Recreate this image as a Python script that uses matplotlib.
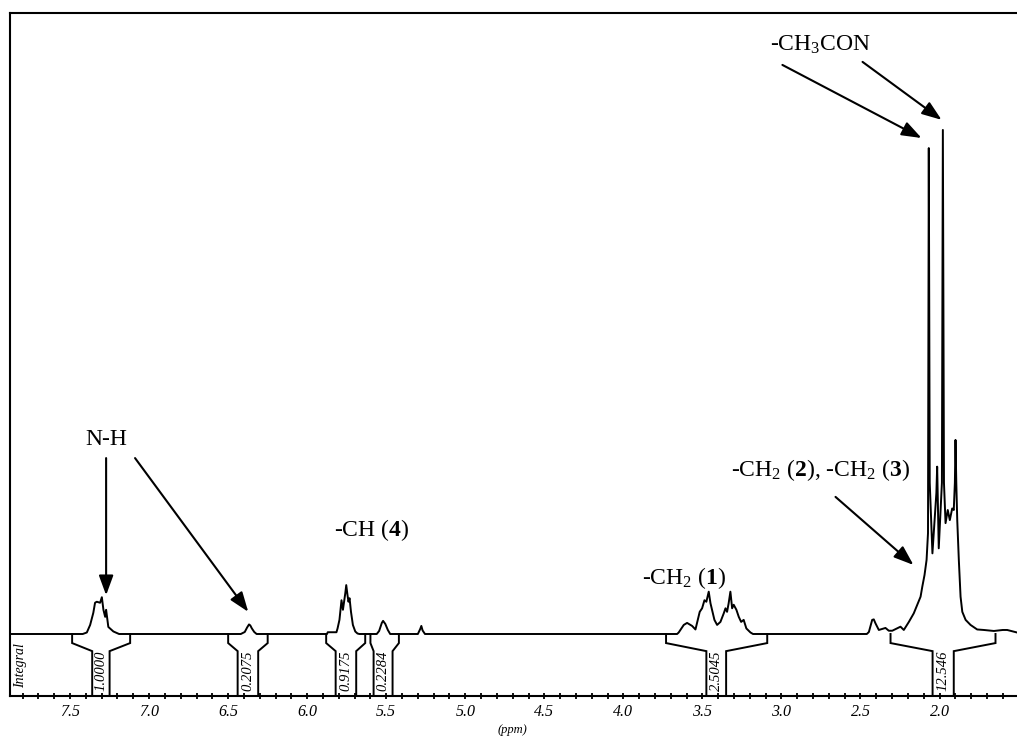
'''
1H NMR spectrum with integrals and peak assignments.
'''
import numpy as np
import matplotlib.pyplot as plt
from matplotlib.ticker import MultipleLocator, FormatStrFormatter

plt.rcParams['font.family'] = 'Liberation Serif'
plt.rcParams['mathtext.fontset'] = 'custom'
plt.rcParams['mathtext.rm'] = 'Liberation Serif'
plt.rcParams['mathtext.it'] = 'Liberation Serif:italic'
plt.rcParams['mathtext.bf'] = 'Liberation Serif:bold'

# spectrum trace, one block per multiplet (ppm, intensity), flat baseline between
nh_ppm = [7.42, 7.394, 7.373, 7.353, 7.342, 7.331, 7.310, 7.299, 7.289, 7.278,
          7.272, 7.266, 7.258, 7.226, 7.204, 7.19]
nh_int = [0, 0.3, 1.8, 4.2, 6.2, 6.4, 6.2, 7.3, 4.8, 3.4, 4.8, 3.4, 1.4, 0.5, 0.2, 0]

nh2_ppm = [6.42, 6.395, 6.38, 6.368, 6.36, 6.35, 6.335, 6.32]
nh2_int = [0, 0.4, 1.3, 1.9, 1.7, 1.1, 0.4, 0]

ch_ppm = [5.875, 5.870, 5.815, 5.808, 5.796, 5.783, 5.774, 5.759, 5.753, 5.745,
          5.739, 5.732, 5.723, 5.711, 5.696, 5.682, 5.67]
ch_int = [0, 0.35, 0.35, 1.1, 2.8, 6.7, 4.8, 8.1, 9.7, 7.7, 6.4, 7.1, 4.4, 1.8,
          0.5, 0.1, 0]

ch_b_ppm = [5.56, 5.545, 5.528, 5.520, 5.506, 5.49, 5.475]
ch_b_int = [0, 0.6, 2.2, 2.6, 2.0, 0.8, 0]

small_ppm = [5.30, 5.285, 5.278, 5.27, 5.255]
small_int = [0, 1.0, 1.6, 0.7, 0]

ch2_ppm = [3.66, 3.650, 3.618, 3.597, 3.565, 3.544, 3.534, 3.517, 3.502, 3.487,
           3.475, 3.460, 3.449, 3.439, 3.424, 3.407, 3.386, 3.365, 3.354, 3.344,
           3.334, 3.323, 3.312, 3.302, 3.285, 3.270, 3.255, 3.239, 3.222, 3.196, 3.18]
ch2_int = [0, 0.3, 1.8, 2.2, 1.6, 0.9, 2.2, 4.4, 5.1, 6.7, 6.4, 8.4, 6.1, 4.8,
           2.8, 1.8, 2.4, 4.1, 5.1, 4.4, 6.1, 8.4, 5.1, 5.8, 4.8, 3.4, 2.4, 2.8,
           1.1, 0.3, 0]

ac_ppm = [2.46, 2.447, 2.426, 2.416, 2.405, 2.384, 2.342, 2.321, 2.299, 2.247,
          2.226, 2.194, 2.163, 2.141, 2.120, 2.109, 2.095, 2.082, 2.073, 2.068,
          2.062, 2.045, 2.020, 2.015, 2.010, 2.005, 1.985, 1.979, 1.972, 1.962,
          1.948, 1.935, 1.920, 1.910, 1.903, 1.899, 1.894, 1.888, 1.878, 1.867,
          1.856, 1.835, 1.804, 1.762, 1.720, 1.656, 1.600, 1.572, 1.51]
ac_int = [0, 0.4, 2.8, 2.9, 2.1, 0.8, 1.2, 0.65, 0.65, 1.45,
          0.8, 2.4, 4.1, 5.8, 7.4, 9.4, 11.7, 14.7, 20.0, 96.4,
          30.0, 16.0, 28.0, 33.2, 25.0, 17.0, 30.0, 100.0, 30.0, 22.0,
          24.6, 22.6, 24.9, 24.6, 30.0, 38.5, 30.0, 22.6, 14.7, 7.4,
          4.4, 2.8, 1.8, 0.9, 0.8, 0.6, 0.8, 0.8, 0.3]

# integrals: outer start/end, inner (label column) edges and value
int_labels = ['1.0000', '0.2075', '0.9175', '0.2284', '2.5045', '12.546']
int_outer_left = [7.487, 6.50, 5.88, 5.60, 3.73, 2.31]
int_inner_left = [7.36, 6.44, 5.82, 5.58, 3.475, 2.044]
int_inner_right = [7.25, 6.31, 5.69, 5.46, 3.35, 1.91]
int_outer_right = [7.12, 6.25, 5.633, 5.42, 3.09, 1.646]

XMIN, XMAX = 7.88, 1.51
YMIN, YMAX = -12.3, 123.2


def build_spectrum():
    segs_ppm = [nh_ppm, nh2_ppm, ch_ppm, ch_b_ppm, small_ppm, ch2_ppm, ac_ppm]
    segs_int = [nh_int, nh2_int, ch_int, ch_b_int, small_int, ch2_int, ac_int]
    ppm = np.concatenate([[XMIN]] + [np.asarray(s) for s in segs_ppm])
    inten = np.concatenate([[0.0]] + [np.asarray(s) for s in segs_int])
    return ppm, inten


def draw_integral(ax, ol, il, ir, orr, label):
    step, slant = -1.8, -3.4
    kw = dict(color='black', lw=1.4, solid_joinstyle='miter')
    ax.plot([ol, ol, il, il], [0, step, slant, YMIN], **kw)
    ax.plot([orr, orr, ir, ir], [0, step, slant, YMIN], **kw)
    ax.text((il + ir) / 2, -7.3, label, rotation=90, ha='center', va='center',
            style='italic', fontsize=10.5)


def arrow(ax, tail, tip):
    ax.annotate('', xy=tip, xytext=tail,
                arrowprops=dict(arrowstyle='-|>,head_length=0.6,head_width=0.22',
                                color='black', lw=1.5, mutation_scale=20,
                                shrinkA=0, shrinkB=0))


def main():
    fig = plt.figure(figsize=(10.17, 7.38), dpi=100)
    ax = fig.add_axes([10 / 1017, 42 / 738, 1 - 10 / 1017, 683 / 738])

    ppm, inten = build_spectrum()
    ax.plot(ppm, inten, color='black', lw=1.4)

    for ol, il, ir, orr, lab in zip(int_outer_left, int_inner_left,
                                    int_inner_right, int_outer_right, int_labels):
        draw_integral(ax, ol, il, ir, orr, lab)

    ax.set_xlim(XMIN, XMAX)
    ax.set_ylim(YMIN, YMAX)
    ax.set_yticks([])
    ax.spines['right'].set_visible(False)
    for s in ['left', 'top', 'bottom']:
        ax.spines[s].set_linewidth(1.5)

    ax.xaxis.set_major_locator(MultipleLocator(0.5))
    ax.xaxis.set_minor_locator(MultipleLocator(0.1))
    ax.xaxis.set_major_formatter(FormatStrFormatter('%.1f'))
    ax.tick_params(axis='x', which='both', direction='inout', length=5, width=1.3,
                   pad=3, labelsize=11.5)
    for t in ax.get_xticklabels():
        t.set_style('italic')

    ax.text(7.816, -6.3, 'Integral', rotation=90, ha='center', va='center',
            style='italic', fontsize=10)
    fig.text(512 / 1017, 8 / 738, '(ppm)', ha='center', va='center',
             style='italic', fontsize=9)

    # assignments
    fs = 17
    ax.text(7.272, 38.5, 'N-H', ha='center', va='center', fontsize=fs)
    arrow(ax, (7.272, 34.9), (7.272, 7.7))
    arrow(ax, (7.089, 34.9), (6.373, 4.4))
    ax.text(5.595, 20.6, '-CH ($\\mathbf{4}$)', ha='center', va='center', fontsize=fs)
    ax.text(3.614, 11.1, '-CH$_2$ ($\\mathbf{1}$)', ha='center', va='center', fontsize=fs)
    ax.text(2.753, 32.5, '-CH$_2$ ($\\mathbf{2}$), -CH$_2$ ($\\mathbf{3}$)',
            ha='center', va='center', fontsize=fs)
    arrow(ax, (2.658, 27.2), (2.165, 13.7))
    ax.text(2.753, 116.9, '-CH$_3$CON', ha='center', va='center', fontsize=fs)
    arrow(ax, (2.994, 112.9), (2.114, 98.4))
    arrow(ax, (2.487, 113.5), (1.987, 102.0))

    fig.savefig('out.png', dpi=100)
    plt.close(fig)


if __name__ == '__main__':
    main()
